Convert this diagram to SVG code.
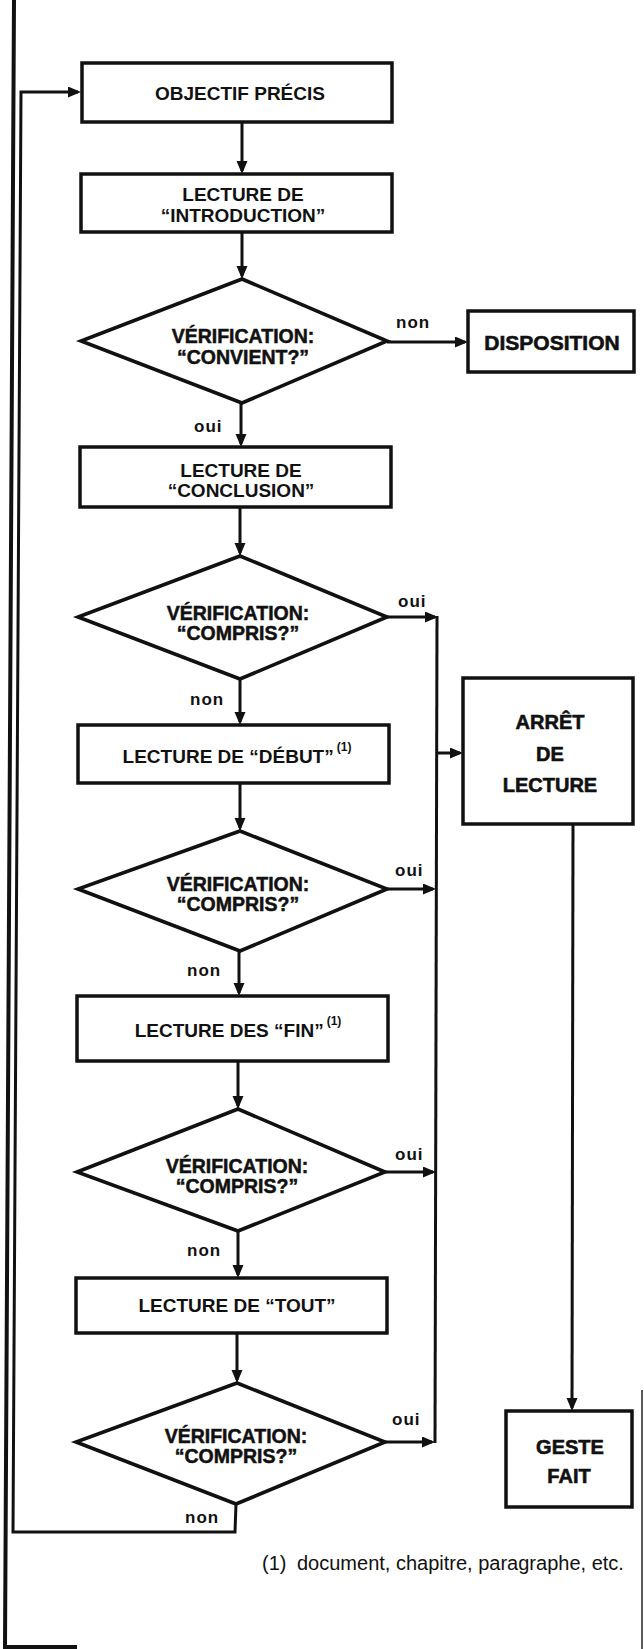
<svg xmlns="http://www.w3.org/2000/svg" width="644" height="1649" viewBox="0 0 644 1649">
<style>
.box{fill:#fff;stroke:#111;stroke-width:3.5;stroke-linejoin:miter}
.dia{fill:#fff;stroke:#111;stroke-width:3.6;stroke-linejoin:miter}
.t{font-family:"Liberation Sans",Arial,sans-serif;font-weight:bold;font-size:19px;fill:#111;text-anchor:middle}
.td{font-family:"Liberation Sans",Arial,sans-serif;font-weight:bold;font-size:19.5px;fill:#111;stroke:#111;stroke-width:0.5;text-anchor:middle}
.tb{font-family:"Liberation Sans",Arial,sans-serif;font-weight:bold;font-size:20px;fill:#111;stroke:#111;stroke-width:0.6;text-anchor:middle}
.sup{font-size:12px}
.lab{font-family:"Liberation Sans",Arial,sans-serif;font-weight:bold;font-size:17px;letter-spacing:1px;fill:#111}
.note{font-family:"Liberation Sans",Arial,sans-serif;font-size:20px;fill:#111}
.c{fill:none;stroke:#111;stroke-width:3;stroke-linejoin:miter}
.frame{fill:none;stroke:#111;stroke-width:4}
</style>
<defs>
<marker id="ah" markerUnits="userSpaceOnUse" markerWidth="14" markerHeight="12" refX="10" refY="5.5" orient="auto">
<path d="M0,0 L13,5.5 L0,11 z" fill="#111"/>
</marker>
</defs>
<rect x="0" y="0" width="644" height="1649" fill="#fff"/>
<g id="page-frame">
<path class="frame" d="M14,0 L5,1647 L77,1647"/>
<path d="M642,1390 L642,1649" fill="none" stroke="#222" stroke-width="1.5"/>
</g>
<g id="connectors">
<path class="c" d="M242,122 L242,171" marker-end="url(#ah)"/>
<path class="c" d="M242,232 L242,276" marker-end="url(#ah)"/>
<path class="c" d="M387,342 L465,342" marker-end="url(#ah)"/>
<path class="c" d="M241,403 L241,444" marker-end="url(#ah)"/>
<path class="c" d="M240,507 L240,553" marker-end="url(#ah)"/>
<path class="c" d="M387,617 L435,617" marker-end="url(#ah)"/>
<path class="c" d="M437,616 L435,1443"/>
<path class="c" d="M437,753 L460,753" marker-end="url(#ah)"/>
<path class="c" d="M240,679 L240,722" marker-end="url(#ah)"/>
<path class="c" d="M240,783 L240,828" marker-end="url(#ah)"/>
<path class="c" d="M387,889 L433,889" marker-end="url(#ah)"/>
<path class="c" d="M239,951 L239,993" marker-end="url(#ah)"/>
<path class="c" d="M238,1061 L238,1106" marker-end="url(#ah)"/>
<path class="c" d="M385,1172 L433,1172" marker-end="url(#ah)"/>
<path class="c" d="M238,1231 L238,1275" marker-end="url(#ah)"/>
<path class="c" d="M237,1333 L237,1380" marker-end="url(#ah)"/>
<path class="c" d="M385,1442 L432,1442" marker-end="url(#ah)"/>
<path class="c" d="M236,1504 L235,1532 L13,1532 L21,92 L78,92" marker-end="url(#ah)"/>
<path class="c" d="M573,824 L572,1408" marker-end="url(#ah)"/>
</g>
<g id="labels">
<text class="lab" x="396" y="328">non</text>
<text class="lab" x="194" y="432">oui</text>
<text class="lab" x="398" y="607">oui</text>
<text class="lab" x="190" y="705">non</text>
<text class="lab" x="395" y="876">oui</text>
<text class="lab" x="187" y="976">non</text>
<text class="lab" x="395" y="1160">oui</text>
<text class="lab" x="187" y="1256">non</text>
<text class="lab" x="392" y="1425">oui</text>
<text class="lab" x="185" y="1523">non</text>
</g>
<g id="objectif">
<rect class="box" x="82" y="63" width="310" height="59"/>
<text class="t" x="240" y="100">OBJECTIF PRÉCIS</text>
</g>
<g id="lecture-introduction">
<rect class="box" x="81" y="174" width="311" height="58"/>
<text class="t" x="243" y="201">LECTURE DE</text>
<text class="t" x="243" y="222">“INTRODUCTION”</text>
</g>
<g id="verif-convient">
<polygon class="dia" points="242,279 387,341 242,403 81,341"/>
<text class="td" x="243" y="343">VÉRIFICATION:</text>
<text class="td" x="243" y="364">“CONVIENT?”</text>
</g>
<g id="disposition">
<rect class="box" x="468" y="311" width="166" height="61"/>
<text class="tb" x="552" y="350" style="font-size:21px">DISPOSITION</text>
</g>
<g id="lecture-conclusion">
<rect class="box" x="80" y="447" width="311" height="60"/>
<text class="t" x="241" y="477">LECTURE DE</text>
<text class="t" x="241" y="497">“CONCLUSION”</text>
</g>
<g id="verif-compris-1">
<polygon class="dia" points="240,556 387,617 240,679 78,617"/>
<text class="td" x="238" y="620">VÉRIFICATION:</text>
<text class="td" x="238" y="640">“COMPRIS?”</text>
</g>
<g id="lecture-debut">
<rect class="box" x="78" y="725" width="311" height="58"/>
<text class="t" x="237" y="763">LECTURE DE “DÉBUT”<tspan class="sup" dx="3" dy="-12">(1)</tspan></text>
</g>
<g id="verif-compris-2">
<polygon class="dia" points="240,831 387,889 240,951 78,889"/>
<text class="td" x="238" y="891">VÉRIFICATION:</text>
<text class="td" x="238" y="911">“COMPRIS?”</text>
</g>
<g id="lecture-fin">
<rect class="box" x="77" y="996" width="311" height="65"/>
<text class="t" x="238" y="1037">LECTURE DES “FIN”<tspan class="sup" dx="3" dy="-12">(1)</tspan></text>
</g>
<g id="verif-compris-3">
<polygon class="dia" points="238,1109 385,1172 238,1231 77,1172"/>
<text class="td" x="237" y="1173">VÉRIFICATION:</text>
<text class="td" x="237" y="1193">“COMPRIS?”</text>
</g>
<g id="lecture-tout">
<rect class="box" x="76" y="1278" width="311" height="55"/>
<text class="t" x="237" y="1312">LECTURE DE “TOUT”</text>
</g>
<g id="verif-compris-4">
<polygon class="dia" points="237,1383 385,1442 236,1504 76,1442"/>
<text class="td" x="236" y="1443">VÉRIFICATION:</text>
<text class="td" x="236" y="1463">“COMPRIS?”</text>
</g>
<g id="arret-lecture">
<rect class="box" x="463" y="678" width="170" height="146"/>
<text class="tb" x="550" y="729">ARRÊT</text>
<text class="tb" x="550" y="761">DE</text>
<text class="tb" x="550" y="792">LECTURE</text>
</g>
<g id="geste-fait">
<rect class="box" x="506" y="1411" width="126" height="96"/>
<text class="tb" x="570" y="1454">GESTE</text>
<text class="tb" x="569" y="1483">FAIT</text>
</g>
<g id="footnote">
<text class="note" x="262" y="1570">(1)<tspan x="297">document, chapitre, paragraphe, etc.</tspan></text>
</g>
</svg>
